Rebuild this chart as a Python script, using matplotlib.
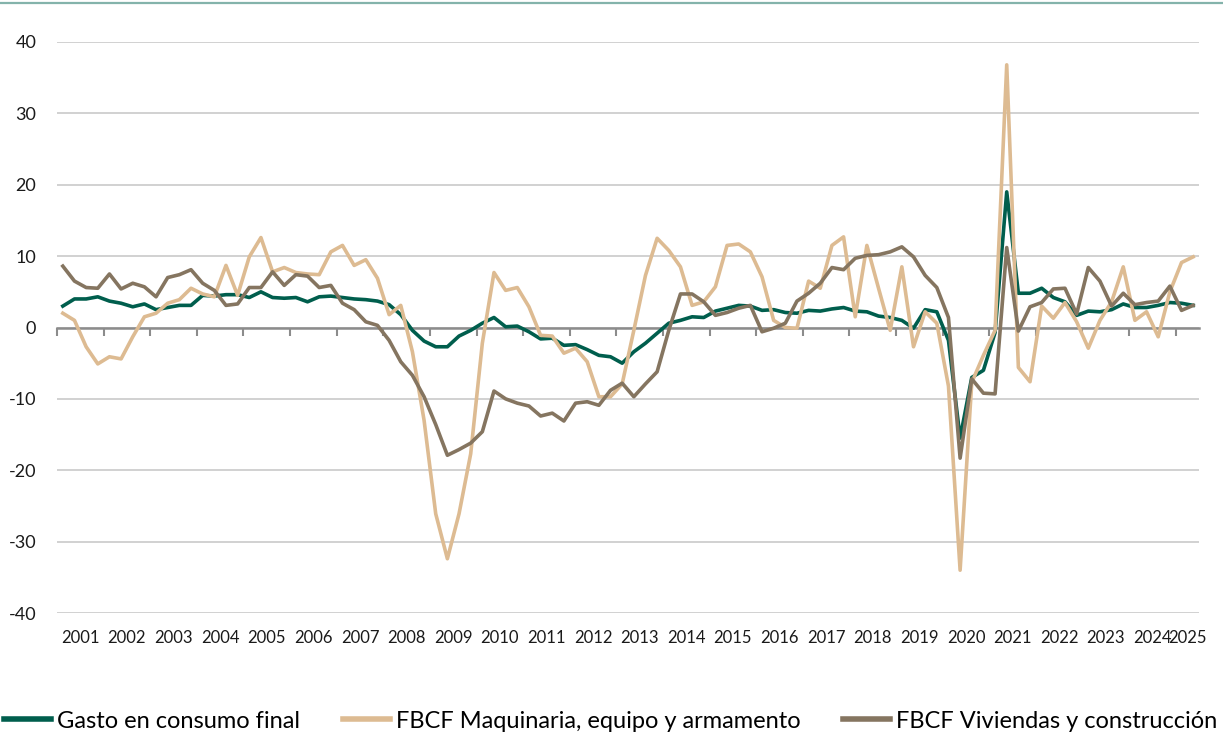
import matplotlib
matplotlib.use("Agg")
import matplotlib.pyplot as plt
from matplotlib.lines import Line2D
import numpy as np

# ---- data (quarterly, 2001Q1 .. 2025Q2) ----
years = [str(y) for y in range(2001, 2026)]

gasto = [3.0, 4.0, 4.0, 4.3,  3.7, 3.4, 2.9, 3.3,  2.5, 2.8, 3.1, 3.1,
         4.5, 4.4, 4.6, 4.6,  4.2, 5.0, 4.2, 4.1,  4.2, 3.6, 4.3, 4.4,
         4.2, 4.0, 3.9, 3.7,  3.2, 1.8, -0.4, -1.9, -2.7, -2.7, -1.2, -0.4,
         0.6, 1.4, 0.1, 0.2,  -0.6, -1.6, -1.5, -2.5, -2.4, -3.1, -3.9, -4.1,
         -5.0, -3.4, -2.2, -0.8, 0.6, 1.0, 1.5, 1.4,  2.3, 2.7, 3.1, 3.0,
         2.4, 2.5, 2.1, 2.0,  2.4, 2.3, 2.6, 2.8,  2.3, 2.2, 1.6, 1.4,
         1.0, -0.1, 2.5, 2.2, -1.8, -15.5, -7.0, -6.0, -0.7, 19.0, 4.8, 4.8,
         5.5, 4.2, 3.6, 1.7,  2.3, 2.2, 2.5, 3.3,  2.8, 2.8, 3.1, 3.5,
         3.4, 3.1]

maquinaria = [2.0, 1.0, -2.7, -5.1, -4.1, -4.4, -1.3, 1.5, 2.0, 3.4, 3.9, 5.5,
              4.7, 4.3, 8.7, 4.5,  9.9, 12.6, 7.8, 8.4,  7.7, 7.5, 7.4, 10.6,
              11.5, 8.7, 9.5, 6.9,  1.8, 3.1, -3.4, -13.0, -26.1, -32.4, -26.1, -17.7,
              -2.2, 7.7, 5.2, 5.6,  2.9, -1.1, -1.2, -3.6, -2.9, -4.8, -9.7, -9.7,
              -7.9, -0.4, 7.3, 12.5, 10.8, 8.5, 3.1, 3.6,  5.7, 11.5, 11.7, 10.6,
              7.1, 1.0, 0.0, -0.1,  6.5, 5.5, 11.5, 12.7,  1.5, 11.5, 5.5, -0.4,
              8.5, -2.7, 2.2, 0.6,  -8.2, -34.0, -7.7, -3.9, -0.4, 36.8, -5.6, -7.6,
              3.0, 1.3, 3.5, 0.8,  -2.9, 1.0, 3.6, 8.5,  1.0, 2.2, -1.3, 5.0,
              9.1, 9.9]

viviendas = [8.6, 6.5, 5.6, 5.5,  7.5, 5.4, 6.2, 5.7,  4.3, 7.0, 7.4, 8.1,
             6.2, 5.2, 3.1, 3.3,  5.6, 5.6, 7.8, 5.9,  7.4, 7.2, 5.6, 5.9,
             3.4, 2.5, 0.8, 0.3,  -1.8, -4.8, -6.7, -9.7, -13.6, -17.9, -17.1, -16.2,
             -14.6, -8.9, -10.0, -10.6, -11.0, -12.4, -12.0, -13.1, -10.6, -10.4, -10.9, -8.8,
             -7.8, -9.7, -7.9, -6.2, -0.4, 4.7, 4.7, 3.6,  1.7, 2.1, 2.7, 3.1,
             -0.6, -0.1, 0.6, 3.7,  4.8, 6.2, 8.4, 8.1,  9.7, 10.1, 10.2, 10.6,
             11.3, 9.9, 7.3, 5.6,  1.4, -18.3, -7.2, -9.2, -9.3, 11.2, -0.5, 2.9,
             3.5, 5.4, 5.5, 1.9,  8.4, 6.5, 3.0, 4.8,  3.2, 3.5, 3.7, 5.8,
             2.4, 3.1]

labels = ["Gasto en consumo final",
          "FBCF Maquinaria, equipo y armamento",
          "FBCF Viviendas y construcción"]
colors = ["#005E4D", "#DDBB92", "#857560"]

plt.rcParams['font.family'] = ['Lato', 'DejaVu Sans']
plt.rcParams['axes.unicode_minus'] = False

n = len(gasto)
x = np.arange(n)

fig = plt.figure(figsize=(12.23, 7.36), dpi=100)
ax = fig.add_axes([57/1223, 1 - 613/736, (1199 - 57)/1223, (613 - 42)/736])

ax.set_ylim(-40, 40)
ax.set_xlim(-0.5, n - 0.5)
ax.set_yticks(np.arange(-40, 41, 10))
ax.yaxis.grid(True, color="#C9C9C9", lw=1.2)
ax.set_axisbelow(True)
ax.tick_params(axis='y', length=0, pad=15, labelsize=13, colors="#1a1a1a")

for s in ['top', 'right', 'left']:
    ax.spines[s].set_visible(False)
ax.spines['bottom'].set_position(('data', 0))
ax.spines['bottom'].set_color("#8C8C8C")
ax.spines['bottom'].set_linewidth(1.8)
ax.spines['bottom'].set_zorder(1)

# year boundary ticks on the zero line
boundaries = np.arange(-0.5, n - 1, 4)
ax.set_xticks(boundaries)
ax.set_xticklabels([])
ax.tick_params(axis='x', length=6, width=1.5, color="#8C8C8C", direction='out')

# year labels at the bottom
centers = [min(4 * k + 1.5, (4 * k + n - 1) / 2) for k in range(len(years))]
sec = ax.secondary_xaxis('bottom')
sec.set_xticks(centers)
sec.set_xticklabels(years)
sec.tick_params(length=0, pad=12, labelsize=12, colors="#1a1a1a")
sec.spines['bottom'].set_visible(False)

for series, lab, c in zip([gasto, maquinaria, viviendas], labels, colors):
    ax.plot(x, series, color=c, lw=2.6, label=lab, solid_joinstyle='round', zorder=3)

handles, labs = ax.get_legend_handles_labels()
leg = fig.legend(handles, labs, loc='center left', bbox_to_anchor=(4/1223, 1 - 721/736),
                 ncol=3, frameon=False, fontsize=17, handlelength=2.0,
                 handletextpad=0.25, columnspacing=1.8, borderpad=0, borderaxespad=0)
for h in leg.get_lines():
    h.set_linewidth(4)

fig.add_artist(Line2D([0, 1], [1 - 2.5/736, 1 - 2.5/736], transform=fig.transFigure,
                      color="#84B3AB", lw=1.6))

fig.savefig("out.png", dpi=100)
